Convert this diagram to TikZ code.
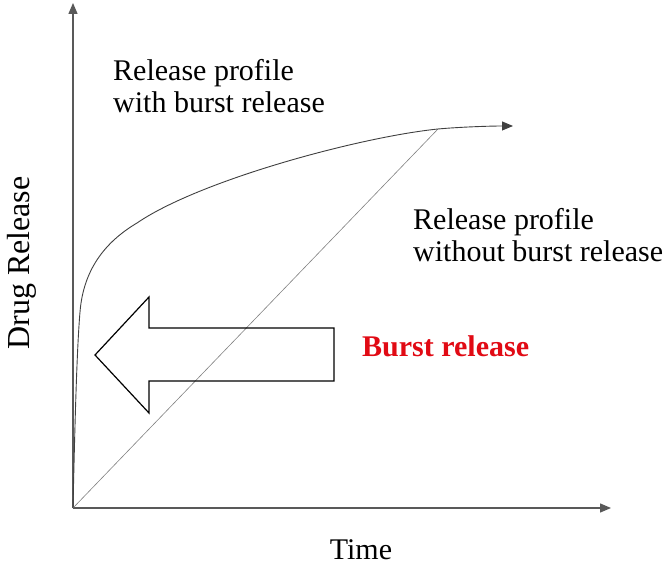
\documentclass[tikz,border=0pt]{standalone}
\usepackage{fontspec}
\setmainfont{Liberation Serif}
\usetikzlibrary{arrows.meta}
\definecolor{burstred}{RGB}{225,10,20}

\begin{document}
\begin{tikzpicture}[x=1pt,y=1pt,
    axis/.style={draw=black!65, line width=1.3pt, -{Triangle[length=11pt,width=9pt]}},
    lbl/.style={font=\fontsize{30}{32}\selectfont, inner sep=0pt, align=left}]
  \useasboundingbox (0,0) rectangle (668,567);
  % axes
  \coordinate (O) at (73,59);
  \coordinate (ytop) at (73,564);
  \coordinate (xend) at (611,59);
  \draw[axis] (O) -- (ytop);
  \draw[axis] (O) -- (xend);
  % profiles
  \coordinate (P) at (438,438);
  \coordinate (cend) at (513,441);
  \draw[black!50, line width=0.6pt] (O) -- (P);
  \draw[black!75, line width=0.9pt, -{Triangle[length=11pt,width=9pt]}]
    (O) .. controls (75,150) and (77,220) .. (80,255)
        .. controls (83,292) and (100,322) .. (137,344)
        .. controls (200,387) and (360,430) .. (P)
        .. controls (460,440) and (490,441) .. (cend);
  % burst arrow
  \draw[line width=1.2pt, line join=miter] (95,212) -- (149,270) -- (149,239) -- (334,239)
    -- (334,186) -- (149,186) -- (149,154) -- cycle;
  % labels
  \node[lbl, anchor=base west] (withB) at (113,454) {Release profile\\with burst release};
  \node[lbl, anchor=base west] (withoutB) at (413,305) {Release profile\\without burst release};
  \node[lbl, font=\fontsize{30}{32}\selectfont\bfseries, text=burstred, anchor=base west]
    (burst) at (362,210) {Burst release};
  \node[lbl, font=\fontsize{32}{34}\selectfont, rotate=90] (ylab) at (22,304) {Drug Release};
  \node[lbl, anchor=base] (xlab) at (361,8) {Time};
\end{tikzpicture}
\end{document}
